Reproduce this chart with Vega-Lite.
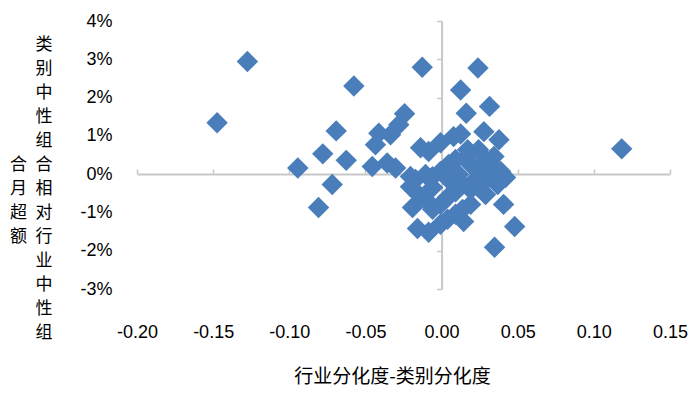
{
  "$schema": "https://vega.github.io/schema/vega-lite/v6.json",
  "width": 533,
  "height": 268,
  "autosize": "none",
  "padding": {"left": 137, "top": 21, "right": 29, "bottom": 104},
  "background": "white",
  "config": {"view": {"stroke": null}},
  "data": {"values": [
    {"x": -0.1275, "y": 2.94}, {"x": -0.1474, "y": 1.34}, {"x": -0.0944, "y": 0.16}, {"x": -0.078, "y": 0.53},
    {"x": -0.0692, "y": 1.13}, {"x": -0.0626, "y": 0.36}, {"x": -0.0718, "y": -0.27}, {"x": -0.0808, "y": -0.87},
    {"x": -0.0576, "y": 2.30}, {"x": -0.0455, "y": 0.20}, {"x": -0.0434, "y": 0.77}, {"x": -0.0412, "y": 1.07},
    {"x": -0.0335, "y": 1.03}, {"x": -0.0281, "y": 1.29}, {"x": -0.0243, "y": 1.58}, {"x": -0.0357, "y": 0.29},
    {"x": -0.0302, "y": 0.16}, {"x": -0.0204, "y": -0.06}, {"x": -0.0127, "y": 2.79}, {"x": 0.0239, "y": 2.77},
    {"x": 0.0125, "y": 2.20}, {"x": 0.0315, "y": 1.77}, {"x": 0.0162, "y": 1.59}, {"x": 0.0278, "y": 1.11},
    {"x": 0.0377, "y": 0.90}, {"x": 0.0344, "y": 0.46}, {"x": 0.1183, "y": 0.66},
    {"x": -0.0138, "y": 0.69}, {"x": -0.0085, "y": 0.59}, {"x": -0.0007, "y": 0.82}, {"x": 0.0079, "y": 0.98},
    {"x": 0.0125, "y": 1.05}, {"x": 0.0171, "y": 0.64}, {"x": 0.0243, "y": 0.64}, {"x": 0.0289, "y": 0.38},
    {"x": 0.0322, "y": 0.25}, {"x": 0.0388, "y": 0.07}, {"x": 0.0420, "y": -0.09}, {"x": 0.0368, "y": -0.27},
    {"x": 0.0309, "y": -0.09}, {"x": 0.0256, "y": 0.12}, {"x": 0.0191, "y": 0.25}, {"x": 0.0158, "y": 0.43},
    {"x": 0.0092, "y": 0.38}, {"x": 0.0046, "y": 0.25}, {"x": -0.0007, "y": 0.07}, {"x": -0.0059, "y": -0.07},
    {"x": -0.0105, "y": -0.01}, {"x": -0.0171, "y": -0.14}, {"x": -0.0204, "y": -0.33}, {"x": -0.0151, "y": -0.53},
    {"x": -0.0191, "y": -0.87}, {"x": -0.0105, "y": -0.66}, {"x": -0.0059, "y": -0.92}, {"x": -0.0007, "y": -0.79},
    {"x": 0.0039, "y": -0.61}, {"x": 0.0092, "y": -0.46}, {"x": 0.0138, "y": -0.27}, {"x": 0.0191, "y": -0.40},
    {"x": 0.0243, "y": -0.35}, {"x": 0.0289, "y": -0.53}, {"x": 0.0191, "y": -0.79}, {"x": 0.0138, "y": -0.92},
    {"x": 0.0092, "y": -1.05}, {"x": 0.0039, "y": -1.18}, {"x": -0.0007, "y": -1.31}, {"x": -0.0085, "y": -1.52},
    {"x": -0.0158, "y": -1.42}, {"x": 0.0145, "y": -1.24}, {"x": 0.0223, "y": -0.14}, {"x": 0.0335, "y": -0.09},
    {"x": 0.0407, "y": -0.79}, {"x": 0.0480, "y": -1.37}, {"x": 0.0348, "y": -1.91}, {"x": -0.0059, "y": -0.35},
    {"x": 0.0046, "y": -0.14}, {"x": 0.0112, "y": -0.01}
  ]},
  "layer": [
    {
      "mark": {"type": "point", "shape": "diamond", "filled": true, "size": 450, "color": "#4a7ebb", "opacity": 0},
      "encoding": {
        "x": {"field": "x", "type": "quantitative",
          "scale": {"domain": [-0.2, 0.15], "nice": false, "zero": false},
          "axis": {"orient": "bottom", "domain": false, "ticks": false, "tickSize": 0, "grid": false,
            "values": [-0.2, -0.15, -0.1, -0.05, 0, 0.05, 0.1, 0.15],
            "labelExpr": "replace(format(datum.value, '.2f'), '\u2212', '-')",
            "labelFont": "Liberation Sans", "labelFontSize": 18, "labelColor": "#000000", "labelPadding": 34,
            "labelFlush": false, "labelOverlap": false,
            "title": "行业分化度-类别分化度", "titleFont": "Noto Sans CJK SC", "titleFontSize": 19,
            "titleFontWeight": "normal", "titleColor": "#000000", "titlePadding": 26, "titleX": 255, "titleAlign": "center"}},
        "y": {"field": "y", "type": "quantitative",
          "scale": {"domain": [-3, 4], "nice": false, "zero": false},
          "axis": {"orient": "left", "domain": false, "ticks": false, "tickSize": 0, "grid": false,
            "values": [-3, -2, -1, 0, 1, 2, 3, 4],
            "labelExpr": "datum.value + '%'",
            "labelFont": "Liberation Sans", "labelFontSize": 18, "labelColor": "#000000", "labelPadding": 25,
            "labelFlush": false, "labelOverlap": false,
            "title": ["类", "别", "中", "性", "组", "合\u2002合", "月\u2002相", "超\u2002对", "额\u2002行", "业", "中", "性", "组"],
            "titleAngle": 0, "titleAlign": "right", "titleBaseline": "top", "titleX": -85, "titleY": 15,
            "titleLineHeight": 24, "titleFont": "Noto Sans CJK SC", "titleFontSize": 17, "titleFontWeight": "normal",
            "titleColor": "#000000"}}
      }
    },
    {
      "mark": {"type": "point", "shape": "diamond", "filled": true, "size": 460, "color": "#4a7ebb", "opacity": 1, "strokeWidth": 0},
      "encoding": {
        "x": {"field": "x", "type": "quantitative",
          "axis": {"orient": "top", "offset": -153, "labels": false, "grid": false, "title": null,
            "values": [-0.2, -0.15, -0.1, -0.05, 0, 0.05, 0.1, 0.15],
            "domainColor": "#c8c8c8", "domainWidth": 2, "tickColor": "#c8c8c8", "tickWidth": 1.5, "tickSize": 5}},
        "y": {"field": "y", "type": "quantitative",
          "axis": {"orient": "left", "offset": -304.6, "labels": false, "grid": false, "title": null,
            "values": [-3, -2, -1, 0, 1, 2, 3, 4],
            "domainColor": "#c8c8c8", "domainWidth": 2, "tickColor": "#c8c8c8", "tickWidth": 1.5, "tickSize": 5}}
      }
    }
  ],
  "resolve": {"axis": {"x": "independent", "y": "independent"}}
}
